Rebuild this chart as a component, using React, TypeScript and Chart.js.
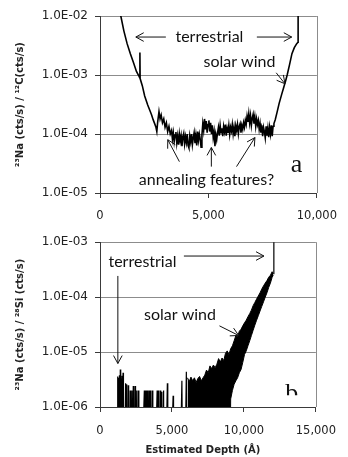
import React, { useEffect, useRef } from 'react';
import { Chart, registerables } from 'chart.js';

Chart.register(...registerables);

// value used for "no counts" (below the log axis floor)
const BLANK = 1e-9;

// ---------- Panel a: 23Na / 12C versus estimated depth ----------
const depthA = [
  850, 960, 1100, 1250, 1400, 1550, 1680, 1770,
  1830, 1840, 1850, 1950, 2060, 2200, 2300, 2380,
  2450, 2520, 2580, 2620, 2660, 2720, 2770, 2820,
  2880, 2940, 3000, 3060, 3120, 3180, 3240,
  3300, 3340, 3380, 3420, 3460, 3500, 3540, 3580, 3620, 3660,
  3700, 3740, 3780, 3820, 3860, 3900, 3940, 3980, 4020, 4060,
  4100, 4140, 4180, 4220, 4260, 4300, 4340, 4380, 4420, 4460,
  4500, 4540, 4580, 4620, 4660, 4700, 4740, 4780, 4820, 4860,
  4900, 4940, 4980, 5020, 5060, 5100, 5140, 5180, 5220, 5260,
  5300, 5340, 5380, 5420, 5460, 5500, 5540, 5580, 5620, 5660,
  5700, 5740, 5780, 5820, 5860, 5900, 5940, 5980, 6020, 6060,
  6100, 6140, 6180, 6220, 6260, 6300, 6340, 6380, 6420, 6460,
  6500, 6540, 6580, 6620, 6660, 6700, 6740, 6780, 6820, 6860,
  6900, 6940, 6980, 7020, 7060, 7100, 7140, 7180, 7220, 7260,
  7300, 7340, 7380, 7420, 7460, 7500, 7540, 7580, 7620, 7660,
  7700, 7740, 7780, 7820, 7860, 7900, 7940, 7980, 8020,
  8080, 8160, 8260, 8370, 8480, 8560, 8630, 8740, 8850, 8960, 9070, 9130, 9135,
];
const naOverC = [
  1.4e-2, 1.0e-2, 5.6e-3, 3.4e-3, 2.3e-3, 1.6e-3, 1.15e-3, 1.0e-3,
  9.0e-4, 2.4e-3, 8.7e-4, 6.6e-4, 4.4e-4, 3.1e-4, 2.5e-4, 2.1e-4,
  1.75e-4, 1.5e-4, 1.3e-4, 1.1e-4, 1.6e-4, 2.4e-4, 1.8e-4, 2.1e-4,
  1.55e-4, 1.8e-4, 1.3e-4, 1.55e-4, 1.1e-4, 1.35e-4, 1.0e-4,
  1.15e-4, 8.2e-5, 1.05e-4, 7.4e-5, 9.6e-5, 1.08e-4, 7.0e-5, 9.2e-5, 6.6e-5, 1.0e-4,
  7.6e-5, 9.4e-5, 6.2e-5, 8.8e-5, 1.02e-4, 6.8e-5, 9.0e-5, 7.2e-5, 1.0e-4, 6.4e-5,
  5.8e-5, 9.2e-5, 7.4e-5, 1.0e-4, 6.6e-5, 8.6e-5, 1.05e-4, 7.0e-5, 9.4e-5, 6.4e-5,
  1.1e-4, 7.8e-5, 1.0e-4, 8.2e-5, 6.0e-5, 9.6e-5, 1.5e-4, 1.15e-4, 1.8e-4, 1.2e-4,
  1.65e-4, 1.05e-4, 1.45e-4, 1.7e-4, 1.1e-4, 1.55e-4, 1.0e-4, 1.4e-4, 8.8e-5, 1.1e-4,
  6.2e-5, 9.8e-5, 8.0e-5, 1.05e-4, 1.3e-4, 9.4e-5, 1.4e-4, 1.05e-4, 1.25e-4, 9.2e-5,
  1.35e-4, 1.1e-4, 1.45e-4, 9.4e-5, 1.25e-4, 1.05e-4, 1.4e-4, 9.8e-5, 1.3e-4, 1.12e-4,
  1.45e-4, 1.0e-4, 1.3e-4, 9.2e-5, 1.38e-4, 1.15e-4, 1.45e-4, 1.02e-4, 1.35e-4, 1.5e-4,
  1.05e-4, 1.4e-4, 1.2e-4, 1.55e-4, 1.3e-4, 1.7e-4, 1.45e-4, 2.0e-4, 1.6e-4, 2.2e-4,
  1.55e-4, 2.05e-4, 1.4e-4, 1.85e-4, 2.15e-4, 1.5e-4, 1.95e-4, 1.35e-4, 1.8e-4, 1.45e-4,
  1.7e-4, 1.2e-4, 1.5e-4, 1.05e-4, 1.4e-4, 9.2e-5, 1.3e-4, 1.1e-4, 8.6e-5, 1.35e-4,
  9.4e-5, 1.25e-4, 8.8e-5, 1.3e-4, 1.0e-4, 1.4e-4, 9.2e-5, 1.35e-4, 1.5e-4,
  1.75e-4, 2.3e-4, 3.3e-4, 4.6e-4, 6.3e-4, 8.0e-4, 1.0e-3, 1.5e-3, 2.3e-3, 2.9e-3, 3.4e-3, 3.6e-3, 3.0e-2,
];

// ---------- Panel b: 23Na / 28Si versus estimated depth ----------
const depthBSparse = [
  1200, 1230, 1260, 1290, 1320, 1350, 1380, 1410, 1440, 1470, 1500, 1530, 1560, 1600, 1630,
  1780, 1810, 1840, 1870, 1960, 1990, 2100, 2130, 2220, 2250, 2310, 2340, 2440, 2470, 2560, 2590,
  2670, 2700, 3080, 3110, 3140, 3170, 3200, 3230, 3300, 3330, 3420, 3450, 3530, 3560, 3640, 3670,
  3970, 4000, 4080, 4110, 4190, 4220, 4300, 4330, 4420, 4450, 4680, 4710, 5080, 5110, 5440, 5690,
  5800, 6000, 6060,
];
const naOverSiSparse = [
  BLANK, 3.6e-6, BLANK, 3.4e-6, BLANK, 3.8e-6, BLANK, 4.8e-6, BLANK, 3.3e-6, BLANK, 3.7e-6, BLANK, 4.2e-6, BLANK,
  2.7e-6, BLANK, 2.6e-6, BLANK, 2.5e-6, BLANK, 2.0e-6, BLANK, 2.0e-6, BLANK, 2.4e-6, BLANK, 2.4e-6, BLANK, 2.0e-6, BLANK,
  2.0e-6, BLANK, 2.0e-6, BLANK, 2.0e-6, BLANK, 2.0e-6, BLANK, 2.0e-6, BLANK, 2.0e-6, BLANK, 2.0e-6, BLANK, 2.0e-6, BLANK,
  2.0e-6, BLANK, 2.0e-6, BLANK, 2.0e-6, BLANK, 1.9e-6, BLANK, 2.0e-6, BLANK, 2.7e-6, BLANK, 1.6e-6, BLANK, BLANK, 3.0e-6,
  BLANK, 4.4e-6, BLANK,
];
const depthBBand = [
  6080, 6200, 6320, 6440, 6560, 6680, 6800, 6920, 7040, 7160, 7280, 7400, 7520, 7640, 7760, 7880,
  8000, 8120, 8240, 8360, 8480, 8600, 8720, 8840, 8960, 9080, 9200, 9320, 9440, 9560, 9680, 9800,
  9920, 10040, 10160, 10280, 10400, 10520, 10640, 10760, 10880, 11000, 11120, 11240, 11360, 11480, 11600, 11720,
  11840, 11960, 12040,
];
const naOverSiHigh = [
  3.4e-6, 2.9e-6, 3.5e-6, 3.0e-6, 3.4e-6, 2.8e-6, 3.3e-6, 3.6e-6, 3.0e-6, 3.4e-6, 3.8e-6, 4.7e-6, 4.2e-6, 5.6e-6, 5.0e-6, 5.8e-6,
  5.2e-6, 6.0e-6, 7.6e-6, 6.6e-6, 7.8e-6, 7.0e-6, 9.5e-6, 1.05e-5, 9.0e-6, 1.15e-5, 1.3e-5, 1.6e-5, 2.0e-5, 1.9e-5, 2.4e-5, 2.6e-5,
  3.0e-5, 3.4e-5, 3.8e-5, 4.4e-5, 5.0e-5, 5.8e-5, 7.0e-5, 8.0e-5, 9.2e-5, 1.05e-4, 1.2e-4, 1.4e-4, 1.6e-4, 1.8e-4, 2.0e-4, 2.3e-4,
  2.5e-4, 2.9e-4, 2.7e-4,
];
const naOverSiLow = [
  BLANK, BLANK, BLANK, BLANK, BLANK, BLANK, BLANK, BLANK, BLANK, BLANK, BLANK, BLANK, BLANK, BLANK, BLANK, BLANK,
  BLANK, BLANK, BLANK, BLANK, BLANK, BLANK, BLANK, BLANK, BLANK, 1.4e-6, 2.0e-6, 2.6e-6, 3.0e-6, 3.4e-6, 4.2e-6, 4.8e-6,
  6.5e-6, 9.0e-6, 1.05e-5, 1.3e-5, 1.6e-5, 2.0e-5, 2.5e-5, 3.1e-5, 3.8e-5, 4.6e-5, 5.6e-5, 6.8e-5, 8.2e-5, 1.0e-4, 1.2e-4, 1.5e-4,
  1.8e-4, 2.3e-4, 2.5e-4,
];
const depthBEdge = [12080, 12080];
const naOverSiEdge = [2.6e-4, 2.0e-3];

// ---------- Axes ----------
const xTicksA = [0, 5000, 10000];
const xTickLabelsA = ['0', '5,000', '10,000'];
const yTicksA = [1e-5, 1e-4, 1e-3, 1e-2];
const yTickLabelsA = ['1.0E-05', '1.0E-04', '1.0E-03', '1.0E-02'];
const xTicksB = [0, 5000, 10000, 15000];
const xTickLabelsB = ['0', '5,000', '10,000', '15,000'];
const yTicksB = [1e-6, 1e-5, 1e-4, 1e-3];
const yTickLabelsB = ['1.0E-06', '1.0E-05', '1.0E-04', '1.0E-03'];
const yTitleA = '²³Na (cts/s) / ¹²C(cts/s)';
const yTitleB = '²³Na (cts/s) / ²⁸Si (cts/s)';
const xTitleB = 'Estimated Depth (Å)';

const GRID = '#8c8c8c';
const AXIS = '#3a3a3a';
const INK = '#111111';
const XTICK_FONT = { family: 'DejaVu Sans', size: 11.5 };
const YTICK_FONT = { family: 'DejaVu Sans', size: 12 };
const TITLE_FONT = { family: 'DejaVu Sans', size: 10, weight: 'bold' as const };
const NOTE_FONT = '16px Lato';
const PANEL_FONT = '26px "Liberation Serif"';
const XTITLE_FONT = 'bold 10px "DejaVu Sans"';

type Note =
  | { kind: 'text'; text: string; x: number; y: number; font: string; baseline?: CanvasTextBaseline; clipY?: number }
  | { kind: 'arrow'; x0: number; y0: number; x1: number; y1: number }
  | { kind: 'xtitle'; text: string; x: number; fromBottom: number; font: string };

const notesA: Note[] = [
  { kind: 'text', text: 'terrestrial', x: 5045, y: 4.4e-3, font: NOTE_FONT },
  { kind: 'arrow', x0: 3036, y0: 4.4e-3, x1: 1652, y1: 4.4e-3 },
  { kind: 'arrow', x0: 7232, y0: 4.4e-3, x1: 8839, y1: 4.4e-3 },
  { kind: 'text', text: 'solar wind', x: 6429, y: 1.67e-3, font: NOTE_FONT },
  { kind: 'arrow', x0: 8125, y0: 1.09e-3, x1: 8527, y1: 7.1e-4 },
  { kind: 'text', text: 'annealing features?', x: 4911, y: 1.7e-5, font: NOTE_FONT },
  { kind: 'arrow', x0: 3661, y0: 3.4e-5, x1: 3125, y1: 8.0e-5 },
  { kind: 'arrow', x0: 5134, y0: 2.8e-5, x1: 5134, y1: 5.9e-5 },
  { kind: 'arrow', x0: 6295, y0: 2.8e-5, x1: 7143, y1: 8.7e-5 },
  { kind: 'text', text: 'a', x: 9063, y: 2.25e-5, font: PANEL_FONT, baseline: 'alphabetic' },
];

const notesB: Note[] = [
  { kind: 'text', text: 'terrestrial', x: 2950, y: 4.35e-4, font: NOTE_FONT },
  { kind: 'arrow', x0: 5830, y0: 5.6e-4, x1: 11390, y1: 5.6e-4 },
  { kind: 'arrow', x0: 1240, y0: 2.43e-4, x1: 1240, y1: 6.2e-6 },
  { kind: 'text', text: 'solar wind', x: 5560, y: 4.8e-5, font: NOTE_FONT },
  { kind: 'arrow', x0: 8300, y0: 3.0e-5, x1: 9640, y1: 2.0e-5 },
  { kind: 'text', text: 'b', x: 13330, y: 1.29e-6, font: PANEL_FONT, baseline: 'alphabetic', clipY: 1.64e-6 },
  { kind: 'xtitle', text: xTitleB, x: 7150, fromBottom: 7, font: XTITLE_FONT },
];

function notesPlugin(notes: Note[]) {
  return {
    id: 'notes',
    beforeDatasetsDraw(chart: any) {
      const { ctx, chartArea: a } = chart;
      ctx.save();
      ctx.strokeStyle = GRID;
      ctx.lineWidth = 1;
      const r = Math.round(a.right) + 0.5;
      ctx.beginPath();
      ctx.moveTo(r, a.top);
      ctx.lineTo(r, a.bottom);
      ctx.stroke();
      ctx.restore();
    },
    afterDraw(chart: any) {
      const { ctx, scales } = chart;
      const px = (v: number) => scales.x.getPixelForValue(v);
      const py = (v: number) => scales.y.getPixelForValue(v);
      for (const n of notes) {
        ctx.save();
        if (n.kind === 'text') {
          if (n.clipY !== undefined) {
            ctx.beginPath();
            ctx.rect(0, 0, chart.width, py(n.clipY));
            ctx.clip();
          }
          ctx.font = n.font;
          ctx.fillStyle = INK;
          ctx.textAlign = 'center';
          ctx.textBaseline = n.baseline || 'middle';
          ctx.fillText(n.text, px(n.x), py(n.y));
        } else if (n.kind === 'xtitle') {
          ctx.font = n.font;
          ctx.fillStyle = '#222';
          ctx.textAlign = 'center';
          ctx.textBaseline = 'middle';
          ctx.fillText(n.text, px(n.x), chart.height - n.fromBottom);
        } else {
          const x0 = px(n.x0), y0 = py(n.y0), x1 = px(n.x1), y1 = py(n.y1);
          ctx.strokeStyle = INK;
          ctx.lineWidth = 1;
          ctx.beginPath();
          ctx.moveTo(x0, y0);
          ctx.lineTo(x1, y1);
          ctx.stroke();
          const ang = Math.atan2(y1 - y0, x1 - x0);
          const L = 9, w = 0.5;
          ctx.beginPath();
          ctx.moveTo(x1 - L * Math.cos(ang - w), y1 - L * Math.sin(ang - w));
          ctx.lineTo(x1, y1);
          ctx.lineTo(x1 - L * Math.cos(ang + w), y1 - L * Math.sin(ang + w));
          ctx.stroke();
        }
        ctx.restore();
      }
    },
  };
}

function pts(xs: number[], ys: number[]) {
  return xs.map((x, i) => ({ x, y: ys[i] }));
}

function makeOptions(p: {
  xMax: number; xTicks: number[]; xLabels: string[];
  yMin: number; yMax: number; yTicks: number[]; yLabels: string[];
  yTitle: string; xHeight: number; padTop: number; xPad: number;
}) {
  return {
    responsive: false,
    maintainAspectRatio: false,
    animation: false as const,
    layout: { padding: { left: 14, top: p.padTop, right: 24, bottom: 0 } },
    plugins: { legend: { display: false }, tooltip: { enabled: false } },
    elements: { point: { radius: 0 }, line: { tension: 0 } },
    scales: {
      x: {
        type: 'linear' as const,
        min: 0,
        max: p.xMax,
        afterBuildTicks: (s: any) => { s.ticks = p.xTicks.map((v) => ({ value: v })); },
        afterFit: (s: any) => { s.height = p.xHeight; },
        ticks: {
          callback: (_v: any, i: number) => p.xLabels[i],
          font: XTICK_FONT, color: '#222', padding: p.xPad, maxRotation: 0, autoSkip: false,
        },
        grid: { drawOnChartArea: false, tickLength: 5, tickColor: AXIS, color: AXIS },
        border: { color: AXIS, width: 1 },
      },
      y: {
        type: 'logarithmic' as const,
        min: p.yMin,
        max: p.yMax,
        afterBuildTicks: (s: any) => { s.ticks = p.yTicks.map((v) => ({ value: v })); },
        afterFit: (s: any) => { s.width = 86; },
        ticks: { callback: (_v: any, i: number) => p.yLabels[i], font: YTICK_FONT, color: '#222', padding: 7, autoSkip: false },
        grid: { color: GRID, tickLength: 5, tickColor: AXIS },
        border: { color: AXIS, width: 1 },
        title: { display: true, text: p.yTitle, font: TITLE_FONT, color: '#222', padding: 0 },
      },
    },
  };
}

function Panel({ top, height, config }: { top: number; height: number; config: () => any }) {
  const ref = useRef<HTMLCanvasElement | null>(null);
  useEffect(() => {
    if (!ref.current) return;
    const chart = new Chart(ref.current, config());
    return () => chart.destroy();
  }, []);
  return (
    <canvas
      ref={ref}
      width={348}
      height={height}
      style={{ position: 'absolute', left: 0, top, width: 348, height }}
    />
  );
}

const line = (extra: any) => ({
  borderColor: '#000',
  backgroundColor: '#000',
  pointRadius: 0,
  fill: false,
  ...extra,
});

const configA = () => ({
  type: 'line' as const,
  data: {
    datasets: [line({ data: pts(depthA, naOverC), borderWidth: 1.6 })],
  },
  options: makeOptions({
    xMax: 10000, xTicks: xTicksA, xLabels: xTickLabelsA,
    yMin: 1e-5, yMax: 1e-2, yTicks: yTicksA, yLabels: yTickLabelsA,
    yTitle: yTitleA, xHeight: 35, padTop: 16, xPad: 11,
  }),
  plugins: [notesPlugin(notesA)],
});

const configB = () => ({
  type: 'line' as const,
  data: {
    datasets: [
      line({ data: pts(depthBBand, naOverSiHigh), borderWidth: 1, fill: '+1' }),
      line({ data: pts(depthBBand, naOverSiLow), borderWidth: 1 }),
      line({ data: pts(depthBSparse, naOverSiSparse), borderWidth: 1.2 }),
      line({ data: pts(depthBEdge, naOverSiEdge), borderWidth: 1.2 }),
    ],
  },
  options: makeOptions({
    xMax: 15000, xTicks: xTicksB, xLabels: xTickLabelsB,
    yMin: 1e-6, yMax: 1e-3, yTicks: yTicksB, yLabels: yTickLabelsB,
    yTitle: yTitleB, xHeight: 50, padTop: 13, xPad: 12,
  }),
  plugins: [notesPlugin(notesB)],
});

export default function App() {
  return (
    <div style={{ position: 'absolute', left: 0, top: 0, width: 348, height: 457, background: '#fff' }}>
      <Panel top={0} height={228} config={configA} />
      <Panel top={228} height={229} config={configB} />
    </div>
  );
}
